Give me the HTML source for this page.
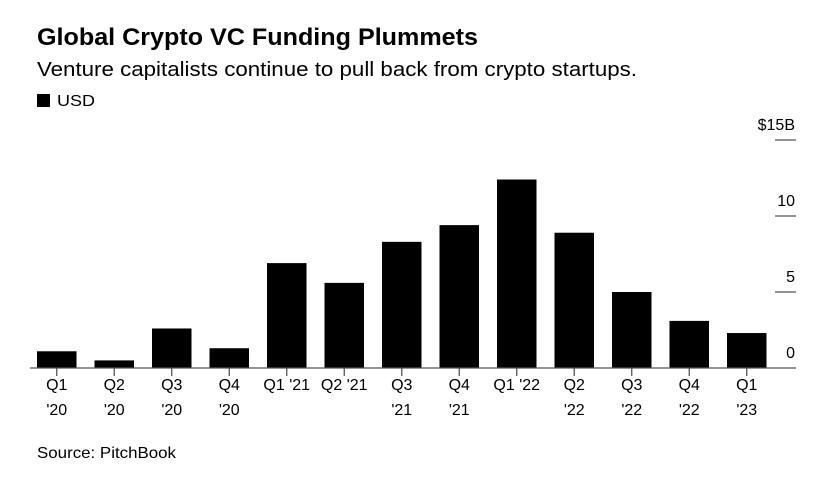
<!DOCTYPE html>
<html><head><meta charset="utf-8"><style>
body{margin:0;background:#fff;font-family:"Liberation Sans",Arial,sans-serif;}
</style></head><body>
<svg width="830" height="487" viewBox="0 0 830 487" xmlns="http://www.w3.org/2000/svg" font-family="Liberation Sans, Arial, sans-serif">
<text x="37" y="45" font-size="24" font-weight="bold" fill="#000" textLength="441" lengthAdjust="spacingAndGlyphs">Global Crypto VC Funding Plummets</text>
<text x="37" y="76" font-size="20" fill="#000" textLength="600" lengthAdjust="spacingAndGlyphs">Venture capitalists continue to pull back from crypto startups.</text>
<rect x="37" y="94" width="13" height="13" fill="#000"/>
<text x="57" y="106" font-size="16" fill="#000" textLength="38" lengthAdjust="spacingAndGlyphs">USD</text>
<g id="chart"></g>
<text x="37" y="458" font-size="16" fill="#000" textLength="139" lengthAdjust="spacingAndGlyphs">Source: PitchBook</text>
</svg>
<script>
const categories=["Q1|'20","Q2|'20","Q3|'20","Q4|'20","Q1 '21|","Q2 '21|","Q3|'21","Q4|'21","Q1 '22|","Q2|'22","Q3|'22","Q4|'22","Q1|'23"];
const values=[1.1,0.5,2.6,1.3,6.9,5.6,8.3,9.4,12.4,8.9,5.0,3.1,2.3];
const yTicks=[0,5,10,15];
const yTickLabels=["0","5","10","$15B"];
const ns="http://www.w3.org/2000/svg";
const g=document.getElementById('chart');
const y0=368,pxPer=(368-140)/15;
function y(v){return y0-v*pxPer;}
function x(i){return 37+i*57.5;}
const bw=39.5;
function mk(t,a){const e=document.createElementNS(ns,t);for(const k in a)e.setAttribute(k,a[k]);g.appendChild(e);return e;}
yTicks.forEach((t,i)=>{
  if(t>0){const l=mk('line',{x1:775,x2:796,y1:y(t),y2:y(t),stroke:'#555','stroke-width':1.3});
  
  }
  const tx=mk('text',{x:795,y:y(t)-10,'text-anchor':'end','font-size':16,fill:'#000'});
  tx.textContent=yTickLabels[i];
  
  
});
values.forEach((v,i)=>{
  const r=mk('rect',{x:x(i),y:y(v),width:bw,height:y0-y(v),fill:'#000'});
  
  
  const cx=x(i)+bw/2;
  const tk=mk('line',{x1:cx,x2:cx,y1:y0,y2:y0+8,stroke:'#555','stroke-width':1.3});
  
  
  const parts=categories[i].split('|');
  parts.forEach((p,j)=>{if(!p)return;
    const t=mk('text',{x:cx,y:390+j*25,'text-anchor':'middle','font-size':16,fill:'#000'});
    t.textContent=p;
    
    
  });
});
const base=mk('line',{x1:30,x2:796,y1:y0,y2:y0,stroke:'#555','stroke-width':1.3});


</script>
</body></html>
